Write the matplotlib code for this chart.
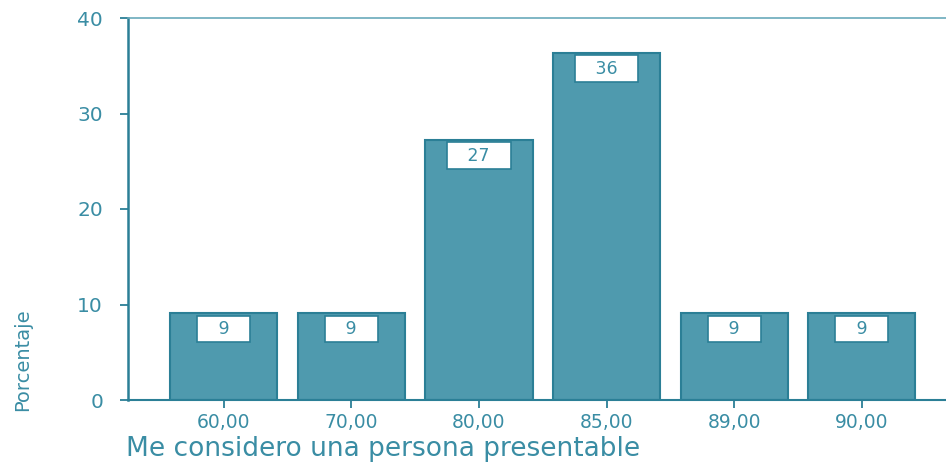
import matplotlib
matplotlib.use("Agg")
import matplotlib.pyplot as plt
import numpy as np

# data
categories = ["60,00", "70,00", "80,00", "85,00", "89,00", "90,00"]
percent = [9.09, 9.09, 27.27, 36.36, 9.09, 9.09]
labels = [9, 9, 27, 36, 9, 9]
y_ticks = [0, 10, 20, 30, 40]

bar_col = "#4f9aae"
edge_col = "#2b7f96"
text_col = "#3a8da4"

fig = plt.figure(figsize=(9.46, 4.68), dpi=100)
ax = fig.add_axes([128 / 946, 68 / 468, 1 - 128 / 946, 382 / 468])

x = np.arange(len(categories))
ax.bar(x, percent, width=0.84, color=bar_col, edgecolor=edge_col, linewidth=1.5)

for xi, v, lab in zip(x, percent, labels):
    ax.annotate(f"   {lab}   ", (xi, v), xytext=(0, -5), textcoords="offset points",
                ha="center", va="top", fontsize=12.5, color=text_col,
                bbox=dict(boxstyle="square,pad=0.25", fc="white", ec=edge_col, lw=1.2))

ax.set_xlim(-0.75, 5.66)
ax.set_ylim(0, 40)
ax.set_xticks(x)
ax.set_xticklabels(categories, fontsize=13.5, color=text_col)
ax.set_yticks(y_ticks)
ax.set_yticklabels([str(t) for t in y_ticks], fontsize=14.5, color=text_col)
ax.tick_params(axis="both", colors=edge_col, length=6, width=1.3, labelcolor=text_col)
ax.tick_params(axis="y", pad=12)
ax.tick_params(axis="x", pad=3)

ax.spines["right"].set_visible(False)
ax.spines["left"].set_color(edge_col)
ax.spines["left"].set_linewidth(1.8)
ax.spines["bottom"].set_color(edge_col)
ax.spines["bottom"].set_linewidth(1.5)
ax.spines["top"].set_color("#6aaabb")
ax.spines["top"].set_linewidth(1.2)

fig.text(126 / 946, 6 / 468, "Me considero una persona presentable", fontsize=19,
         color=text_col, ha="left", va="bottom")
fig.text(23 / 946, 108 / 468, "Porcentaje", rotation=90, fontsize=14,
         family=["Liberation Sans Narrow", "DejaVu Sans"],
         color=text_col, ha="center", va="center")

fig.savefig("out.png", dpi=100)
